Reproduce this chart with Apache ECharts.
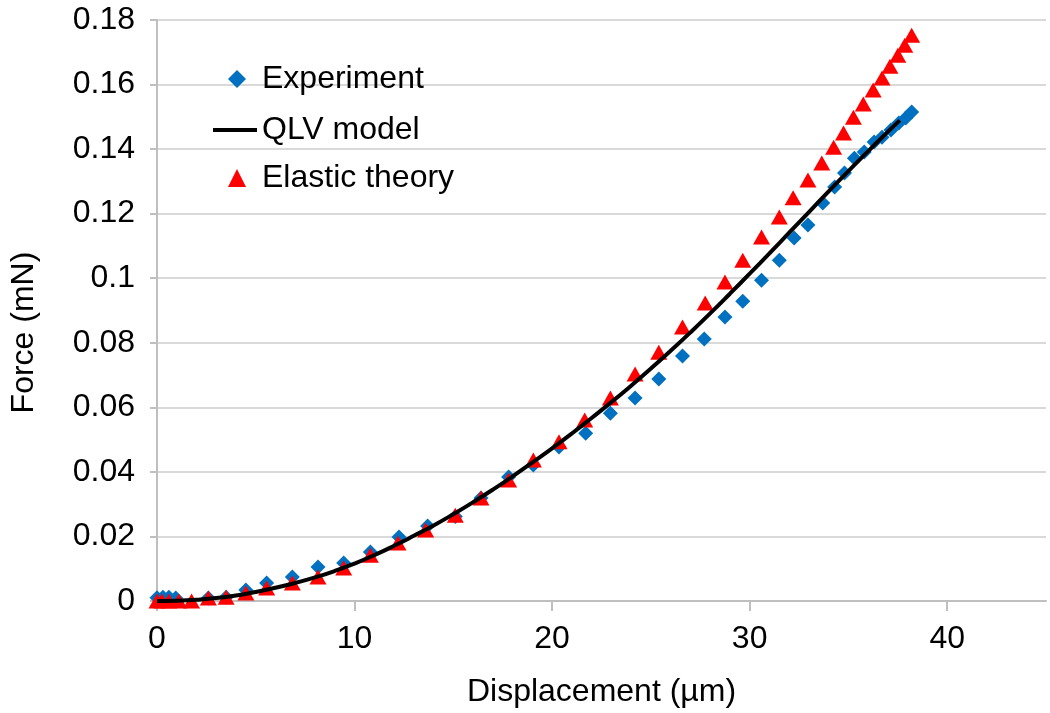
<!DOCTYPE html>
<html>
<head>
<meta charset="utf-8">
<script src="https://cdn.jsdelivr.net/npm/echarts@6/dist/echarts.min.js"></script>
<style>
  html, body { margin: 0; padding: 0; background: #fff; }
  #chart { width: 1050px; height: 713px; }
</style>
</head>
<body>
<div id="chart"></div>
<script>
// displacement (µm) / force (mN)
const experimentX = [0, 0.3, 0.6, 0.95, 2.6, 3.5, 4.5, 5.55, 6.85, 8.15, 9.45, 10.8, 12.25, 13.7, 15.1, 16.4, 17.8, 19.05, 20.35, 21.7, 22.95, 24.2, 25.4, 26.6, 27.7, 28.75, 29.65, 30.6, 31.5, 32.25, 32.95, 33.7, 34.3, 34.8, 35.3, 35.8, 36.3, 36.7, 37.15, 37.55, 37.9, 38.2];
const experimentF = [0.001, 0.0012, 0.0012, 0.0009, 0.0009, 0.0012, 0.0034, 0.0056, 0.0074, 0.0105, 0.0118, 0.0152, 0.0198, 0.0232, 0.0262, 0.0319, 0.0384, 0.0421, 0.0477, 0.052, 0.0582, 0.0629, 0.0688, 0.0759, 0.0812, 0.088, 0.0929, 0.0994, 0.1056, 0.1125, 0.1165, 0.1233, 0.1283, 0.1326, 0.1372, 0.1391, 0.1422, 0.1437, 0.1459, 0.1481, 0.1496, 0.1515];

const modelX = [0, 1, 2, 3, 4, 5, 6, 7, 8, 9, 10, 11, 12, 13, 14, 15, 16, 17, 18, 19, 20, 21, 22, 23, 24, 25, 26, 27, 28, 29, 30, 31, 32, 33, 34, 35, 36, 37, 37.6];
const modelF = [0, 0.0001, 0.0004, 0.0009, 0.0017, 0.0028, 0.0041, 0.0056, 0.0073, 0.0093, 0.0116, 0.0142, 0.0171, 0.0202, 0.0234, 0.0269, 0.0306, 0.0345, 0.0386, 0.0429, 0.0473, 0.0519, 0.0567, 0.0616, 0.0667, 0.072, 0.0775, 0.0832, 0.0891, 0.0952, 0.1014, 0.1077, 0.1141, 0.1205, 0.1269, 0.1332, 0.1394, 0.1454, 0.1489];

const elasticX = [0, 0.25, 0.6, 1.1, 1.75, 2.6, 3.5, 4.5, 5.55, 6.85, 8.15, 9.45, 10.8, 12.2, 13.6, 15.1, 16.4, 17.8, 19.05, 20.35, 21.65, 22.95, 24.2, 25.4, 26.6, 27.75, 28.75, 29.65, 30.6, 31.5, 32.2, 32.95, 33.65, 34.25, 34.75, 35.25, 35.75, 36.25, 36.7, 37.1, 37.5, 37.85, 38.2];
const elasticF = [0, 0, 0, 0, 0, 0.0009, 0.0012, 0.0025, 0.004, 0.0056, 0.0074, 0.0102, 0.0142, 0.018, 0.022, 0.0266, 0.0319, 0.0375, 0.0437, 0.0493, 0.0561, 0.0629, 0.0703, 0.0771, 0.0849, 0.0923, 0.0988, 0.1056, 0.1128, 0.119, 0.1249, 0.1304, 0.1357, 0.1406, 0.145, 0.1499, 0.154, 0.1583, 0.162, 0.1657, 0.1691, 0.1722, 0.1753];

const xTicks = [0, 10, 20, 30, 40];
const seriesNames = ['Experiment', 'QLV model', 'Elastic theory'];

const pair = (xs, ys) => xs.map((x, i) => [x, ys[i]]);

const font = "'Liberation Sans', Arial, sans-serif";
const legendText = { fontFamily: font, fontSize: 32, color: '#000' };
const chart = echarts.init(document.getElementById('chart'));

// one legend per entry so the marker icons keep their own width
const markerLegend = (name, icon, top) => ({
  orient: 'vertical',
  left: 223,
  top: top,
  itemWidth: 18,
  itemHeight: 18,
  textStyle: Object.assign({ padding: [0, 0, 0, 11] }, legendText),
  data: [{ name: name, icon: icon }]
});

chart.setOption({
  animation: false,
  backgroundColor: '#fff',
  textStyle: { fontFamily: font, color: '#000' },
  grid: { left: 155, right: 4, top: 20, bottom: 112, containLabel: false },
  legend: [
    markerLegend(seriesNames[0], 'diamond', 58),
    {
      orient: 'vertical',
      left: 208,
      top: 109,
      itemWidth: 44,
      itemHeight: 15,
      textStyle: legendText,
      data: [{ name: seriesNames[1], icon: 'path://M0,0H44V4H0Z' }]
    },
    markerLegend(seriesNames[2], 'triangle', 157)
  ],
  xAxis: {
    type: 'value',
    min: 0,
    max: 45,
    interval: 10,
    name: 'Displacement (µm)',
    nameLocation: 'middle',
    nameGap: 75,
    nameTextStyle: { fontFamily: font, fontSize: 32, color: '#000' },
    axisLine: { show: true, lineStyle: { color: '#bfbfbf', width: 2 } },
    axisTick: { show: true, customValues: xTicks, length: 10, lineStyle: { color: '#bfbfbf', width: 2 } },
    axisLabel: { customValues: xTicks, fontFamily: font, fontSize: 32, color: '#000', margin: 22 },
    splitLine: { show: false }
  },
  yAxis: {
    type: 'value',
    min: 0,
    max: 0.18,
    interval: 0.02,
    name: 'Force (mN)',
    nameLocation: 'middle',
    nameGap: 117,
    nameTextStyle: { fontFamily: font, fontSize: 32, color: '#000', padding: [0, 44, 0, 0] },
    axisLine: { show: true, lineStyle: { color: '#bfbfbf', width: 2 } },
    axisTick: { show: true, length: 7, lineStyle: { color: '#bfbfbf', width: 2 } },
    axisLabel: { fontFamily: font, fontSize: 32, color: '#000', margin: 22 },
    splitLine: { show: true, lineStyle: { color: '#d9d9d9', width: 2 } }
  },
  series: [
    {
      name: seriesNames[0],
      type: 'scatter',
      symbol: 'diamond',
      symbolSize: 15,
      itemStyle: { color: '#0070c0', opacity: 1 },
      data: pair(experimentX, experimentF)
    },
    {
      name: seriesNames[1],
      type: 'line',
      smooth: true,
      showSymbol: false,
      symbol: 'none',
      lineStyle: { color: '#000', width: 4 },
      itemStyle: { color: '#000' },
      data: pair(modelX, modelF)
    },
    {
      name: seriesNames[2],
      type: 'scatter',
      symbol: 'triangle',
      symbolSize: [17, 15],
      itemStyle: { color: '#ff0000', opacity: 1 },
      data: pair(elasticX, elasticF)
    }
  ]
});
</script>
</body>
</html>
